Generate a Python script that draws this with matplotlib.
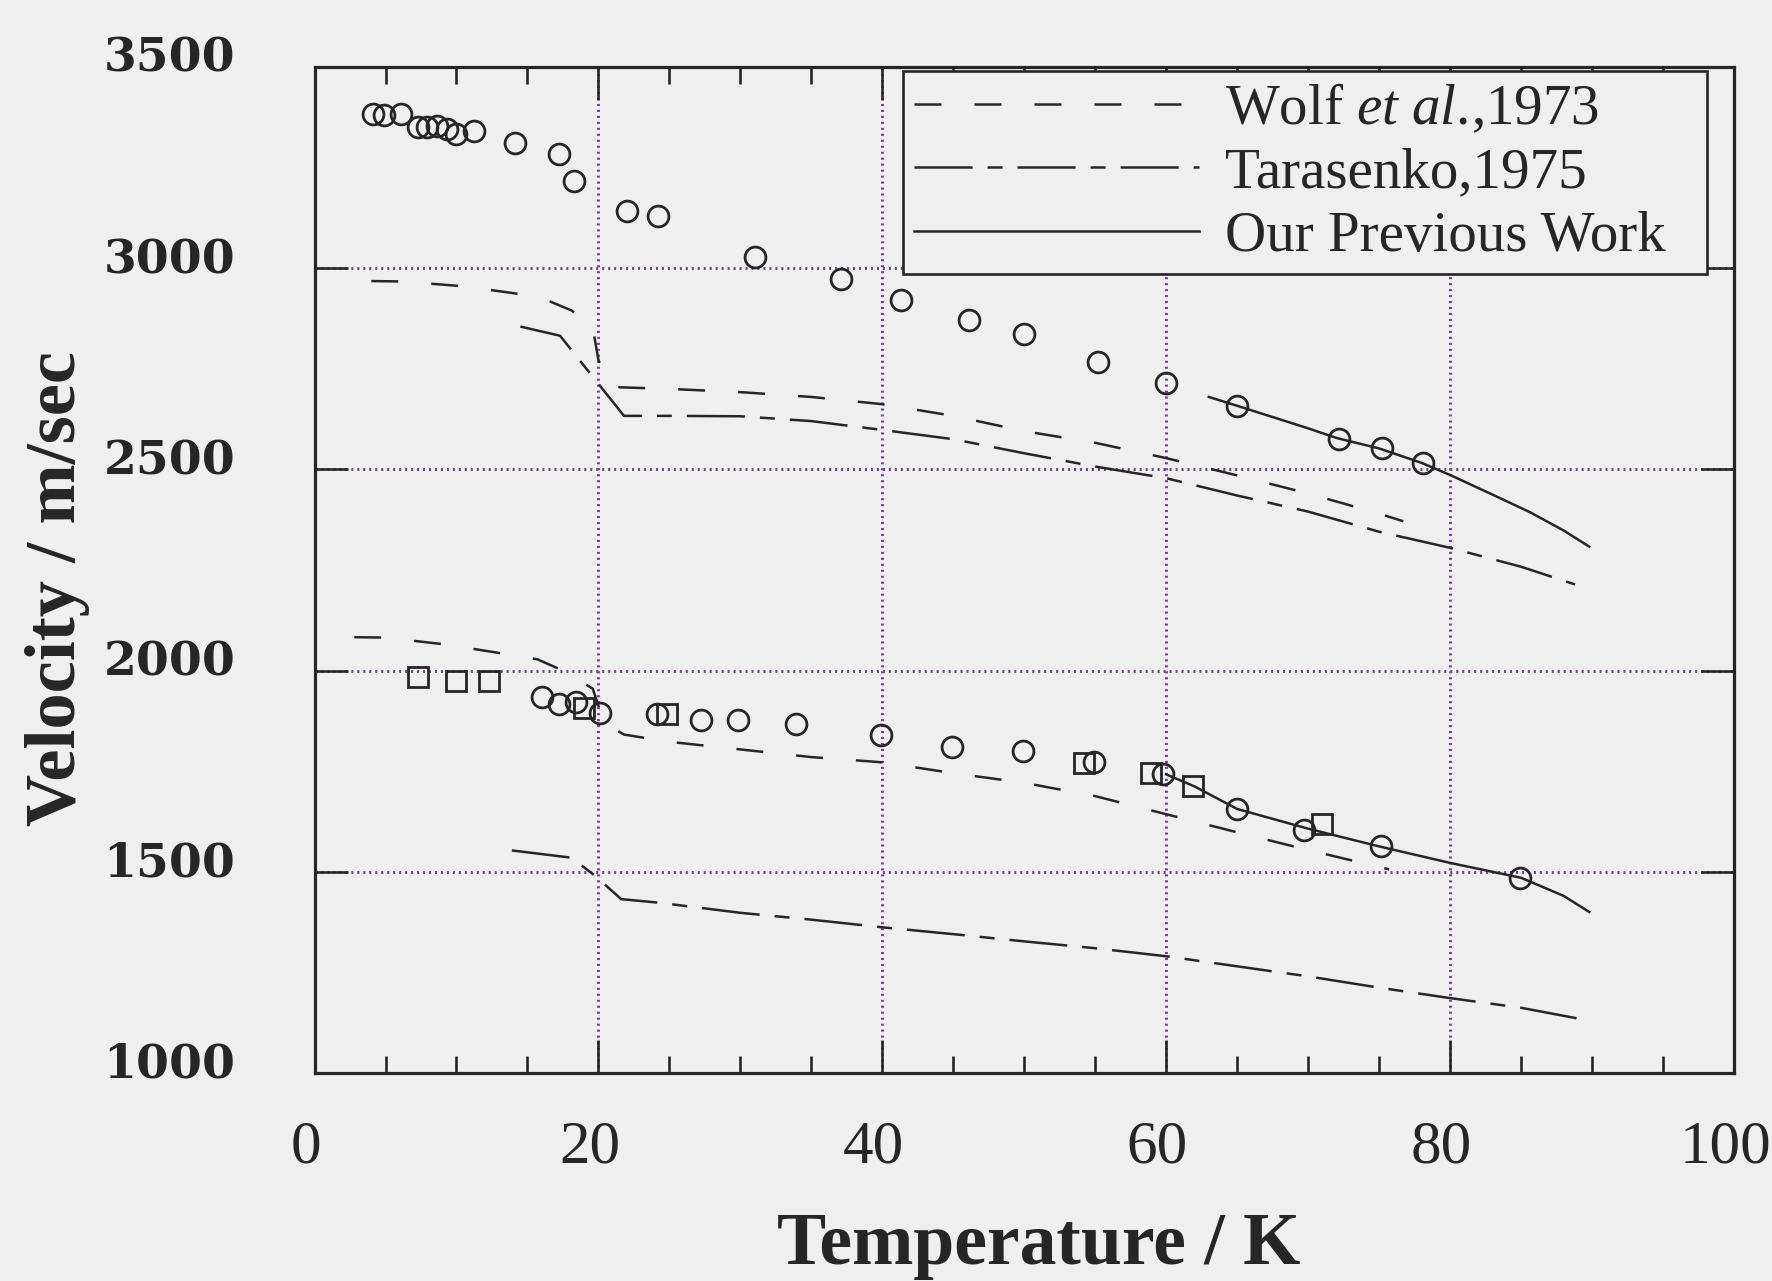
import matplotlib
matplotlib.use("Agg")
import matplotlib.pyplot as plt
from matplotlib.lines import Line2D
from matplotlib.transforms import ScaledTranslation

# ---------------- data ----------------
# upper branch, open circles
T_circ_up = [4.1, 4.9, 6.1, 7.3, 7.9, 8.6, 9.3, 10.0, 11.2, 14.1, 17.2, 18.3, 22.0, 24.2,
             31.0, 37.1, 41.3, 46.1, 50.0, 55.2, 60.0, 65.0, 72.2, 75.2, 78.1]
V_circ_up = [3382, 3380, 3384, 3350, 3350, 3354, 3346, 3333, 3340, 3312, 3285, 3217, 3143, 3129,
             3028, 2973, 2921, 2872, 2836, 2766, 2715, 2658, 2576, 2552, 2515]

# lower branch, open circles
T_circ_lo = [16.0, 17.2, 18.4, 20.1, 24.1, 27.2, 29.8, 33.9, 39.9, 44.9, 49.9, 54.9, 59.8,
             65.0, 69.7, 75.1, 84.9]
V_circ_lo = [1935, 1917, 1922, 1894, 1893, 1877, 1878, 1866, 1840, 1810, 1800, 1772, 1742,
             1656, 1603, 1563, 1484]

# lower branch, open squares
T_sq_lo = [7.3, 10.0, 12.3, 19.0, 24.8, 54.2, 58.9, 61.9, 71.0]
V_sq_lo = [1984, 1974, 1974, 1906, 1891, 1771, 1745, 1714, 1619]

# Wolf et al., 1973
T_wolf_up = [4.0, 6.2, 10.5, 14.0, 16.0, 18.1, 19.6, 20.0, 20.7, 21.5, 25, 30, 35, 40, 45,
             50, 55, 60, 65, 70, 75, 76.7]
V_wolf_up = [2968, 2967, 2955, 2938, 2926, 2895, 2852, 2772, 2713, 2704, 2700, 2692, 2680,
             2662, 2633, 2595, 2566, 2528, 2485, 2440, 2390, 2371]
T_wolf_lo = [2.8, 5.0, 9.2, 13.5, 15.7, 17.5, 19.6, 20.4, 21.8, 25, 30, 35, 40, 45, 50, 55,
             60, 65, 70, 75.7]
V_wolf_lo = [2083, 2082, 2065, 2041, 2028, 2000, 1955, 1870, 1841, 1823, 1804, 1785, 1772,
             1745, 1721, 1688, 1643, 1598, 1554, 1506]

# Tarasenko, 1975
T_tara_up = [14.5, 17.3, 21.8, 25, 30, 35, 40, 45, 50, 55, 60, 65, 70, 75, 80, 85, 88.8]
V_tara_up = [2855, 2832, 2633, 2633, 2632, 2620, 2598, 2575, 2540, 2507, 2478, 2435, 2395,
             2345, 2305, 2258, 2214]
T_tara_lo = [13.9, 18.1, 19.8, 21.6, 24.3, 30, 35, 40, 45, 50, 55, 60, 65, 70, 75, 80, 85, 88.9]
V_tara_lo = [1553, 1535, 1489, 1432, 1423, 1398, 1381, 1362, 1345, 1327, 1310, 1290, 1265,
             1240, 1212, 1186, 1162, 1136]

# Our previous work
T_prev_up = [63, 65, 70, 72, 75, 78, 80, 83, 85.6, 88, 89.8]
V_prev_up = [2680, 2658, 2602, 2578, 2552, 2516, 2486, 2437, 2394, 2348, 2308]
T_prev_lo = [60, 62, 65, 70, 75, 80, 85, 88, 89.8]
V_prev_lo = [1742, 1712, 1656, 1607, 1563, 1522, 1485, 1440, 1400]

x_ticks = [0, 20, 40, 60, 80, 100]
y_ticks = [1000, 1500, 2000, 2500, 3000, 3500]
legend_labels = [r"Wolf $\mathit{et\ al.}\!$,1973", "Tarasenko,1975", "Our Previous Work"]

# ---------------- style ----------------
BG = "#efefef"
INK = "#262626"
GRID = "#74418a"
plt.rcParams["lines.scale_dashes"] = False
plt.rcParams["mathtext.fontset"] = "custom"
plt.rcParams["mathtext.rm"] = "Liberation Serif"
plt.rcParams["mathtext.it"] = "Liberation Serif:italic"

fig = plt.figure(figsize=(17.72, 12.81), dpi=100, facecolor=BG)
ax = fig.add_axes([0.1775, 0.1624, 0.8011, 0.7853], facecolor=BG)

wolf_dash = (0, (19.4, 23.8))
tara_dash = (0, (41.8, 10.8, 10.8, 10.8))
lw = 1.8

ax.plot(T_wolf_up, V_wolf_up, color=INK, lw=lw, linestyle=wolf_dash, zorder=3)
ax.plot(T_wolf_lo, V_wolf_lo, color=INK, lw=lw, linestyle=wolf_dash, zorder=3)
ax.plot(T_tara_up, V_tara_up, color=INK, lw=lw, linestyle=tara_dash, zorder=3)
ax.plot(T_tara_lo, V_tara_lo, color=INK, lw=lw, linestyle=tara_dash, zorder=3)
ax.plot(T_prev_up, V_prev_up, color=INK, lw=lw, linestyle="-", zorder=3)
ax.plot(T_prev_lo, V_prev_lo, color=INK, lw=lw, linestyle="-", zorder=3)

mk = dict(linestyle="none", markerfacecolor="none", markeredgecolor=INK,
          markersize=15.0, markeredgewidth=2.0, zorder=4)
ax.plot(T_circ_up, V_circ_up, marker="o", **mk)
ax.plot(T_circ_lo, V_circ_lo, marker="o", **mk)
ax.plot(T_sq_lo, V_sq_lo, marker="s", **mk)

ax.set_xlim(0, 100)
ax.set_ylim(1000, 3500)
ax.set_xticks(x_ticks)
ax.set_xticks([t for t in range(5, 100, 5) if t % 20 != 0], minor=True)
ax.set_yticks(y_ticks)
ax.set_xticklabels([str(v) for v in x_ticks])
ax.set_yticklabels([str(v) for v in y_ticks])

for s in ax.spines.values():
    s.set_color(INK)
    s.set_linewidth(2.3)

ax.tick_params(which="both", direction="in", top=True, right=True, color=INK, width=1.9)
ax.tick_params(which="major", length=23.5)
ax.tick_params(which="minor", length=12)
ax.tick_params(axis="x", which="major", pad=34, labelsize=44, labelcolor=INK)
ax.tick_params(axis="y", which="major", pad=57, labelsize=34, labelcolor=INK)
for lab in ax.get_xticklabels():
    lab.set_fontfamily("Liberation Serif")
for lab in ax.get_yticklabels():
    lab.set_fontfamily("DejaVu Serif")
    lab.set_fontweight("bold")

# grid at interior major ticks
ax.grid(True, which="major", color=GRID, linestyle=(0, (1.5, 2.8)), linewidth=2.1, zorder=1)
ax.set_axisbelow(True)

ax.set_xlabel("Temperature / K", fontsize=53, fontweight="bold",
              fontfamily="Liberation Serif", color=INK)
ax.xaxis.set_label_coords(0.51, -0.138)
ax.set_ylabel("Velocity / m/sec", fontsize=52, fontweight="bold",
              fontfamily="Liberation Serif", color=INK)
ax.yaxis.set_label_coords(-0.158, 0.482)

handles = [Line2D([], [], color=INK, lw=lw, linestyle=wolf_dash),
           Line2D([], [], color=INK, lw=lw, linestyle=tara_dash),
           Line2D([], [], color=INK, lw=lw, linestyle="-")]
leg = ax.legend(handles, legend_labels, loc="upper left",
                bbox_to_anchor=(0.4146, 0.996, 0.5664, 0.0), mode="expand",
                borderaxespad=0, prop={"family": "Liberation Serif", "size": 41},
                handlelength=5.0, handletextpad=0.45, labelspacing=0.2,
                borderpad=0.2, fancybox=False, framealpha=1.0, edgecolor=INK,
                facecolor=BG, labelcolor=INK)
leg.get_frame().set_linewidth(1.9)
leg.set_zorder(5)

# label offsets as seen in the scan
for lab in ax.get_yticklabels():
    lab.set_transform(lab.get_transform() + ScaledTranslation(0, 13 / 100, fig.dpi_scale_trans))
for lab in ax.get_xticklabels():
    lab.set_transform(lab.get_transform() + ScaledTranslation(-9 / 100, 0, fig.dpi_scale_trans))

fig.savefig("out.png", dpi=100, facecolor=BG)
